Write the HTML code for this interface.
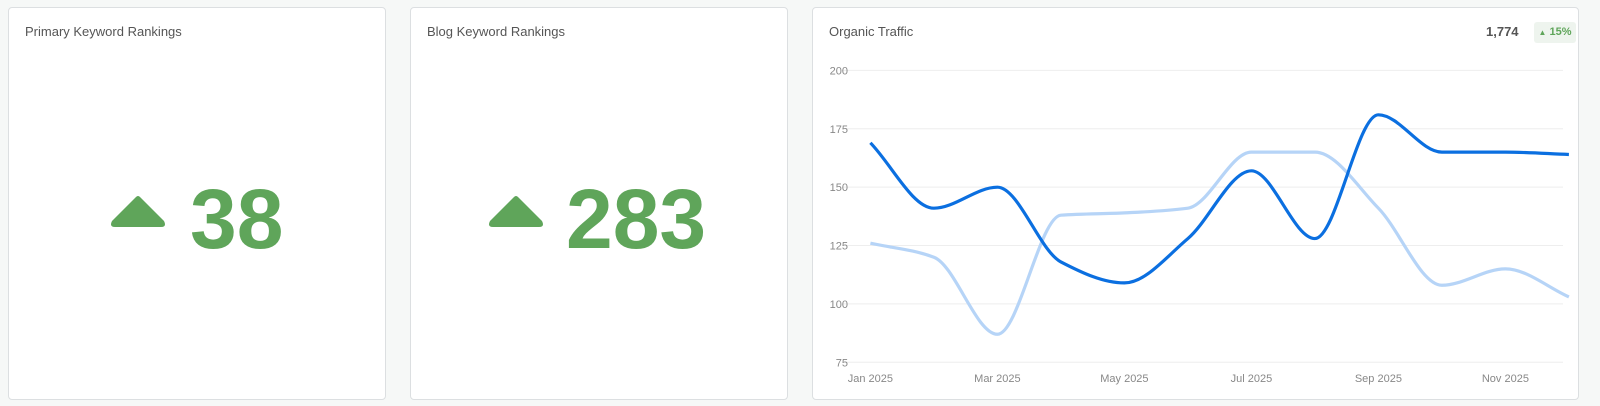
<!DOCTYPE html>
<html><head><meta charset="utf-8"><style>
body{margin:0;width:1600px;height:406px;background:#f6f8f7;font-family:"Liberation Sans",sans-serif;position:relative;overflow:hidden}
.p{position:absolute;top:7px;height:393px;background:#fff;border:1px solid #dcdfe1;border-radius:4px;box-sizing:border-box}
.t{position:absolute;left:16px;top:16px;font-size:13px;color:#555}
.big{position:absolute;top:169px;font-size:84px;font-weight:bold;color:#5fa55a;line-height:100px}
.tri{position:absolute;top:193px}
</style></head><body>
<div class="p" style="left:8px;width:378px"><div class="t">Primary Keyword Rankings</div></div>
<svg class="tri" style="left:108px" width="62" height="42"><path d="M28 4 Q30 2 32 4 L56 28 Q59 34 53 34 L7 34 Q1 34 4 28 Z" fill="#5fa55a"/></svg>
<div class="big" style="left:190px">38</div>
<div class="p" style="left:410px;width:378px"><div class="t">Blog Keyword Rankings</div></div>
<svg class="tri" style="left:486px" width="62" height="42"><path d="M28 4 Q30 2 32 4 L56 28 Q59 34 53 34 L7 34 Q1 34 4 28 Z" fill="#5fa55a"/></svg>
<div class="big" style="left:566px">283</div>
<div class="p" style="left:812px;width:767px"><div class="t">Organic Traffic</div>
<div style="position:absolute;left:673px;top:16px;font-size:13px;font-weight:bold;color:#555">1,774</div>
<div style="position:absolute;left:721px;top:14px;width:42px;height:21px;background:#eef4ee;border-radius:3px;font-size:11px;font-weight:bold;color:#5fa55a;line-height:21px;text-align:center"><span style="font-size:8px">▲</span> 15%</div>
</div>
<svg id="c" style="position:absolute;left:0;top:0" width="1600" height="406"></svg>
<script>
var s=document.getElementById('c'),h='';
function Y(v){return 362.3-(v-75)*2.335}
[200,175,150,125,100,75].forEach(function(v){var y=Y(v);h+='<line x1="842" x2="1563" y1="'+y+'" y2="'+y+'" stroke="#eeeeee"/>';h+='<text x="848" y="'+(y+4)+'" font-size="11" fill="#888" text-anchor="end" font-family="Liberation Sans">'+v+'</text>';});
['Jan 2025','Mar 2025','May 2025','Jul 2025','Sep 2025','Nov 2025'].forEach(function(l,i){h+='<text x="'+(870.4+i*127)+'" y="382" font-size="11" fill="#888" text-anchor="middle" font-family="Liberation Sans">'+l+'</text>'});
function X(i){return 870.4+i*63.5}
function path(d){var n=d.length,x=[],y=[],m=[],dl=[];for(var i=0;i<n;i++){x.push(X(i));y.push(Y(d[i]))}
for(i=0;i<n-1;i++)dl.push((y[i+1]-y[i])/(x[i+1]-x[i]));
m[0]=dl[0];m[n-1]=dl[n-2];for(i=1;i<n-1;i++){m[i]=(dl[i-1]*dl[i]<=0)?0:(2/(1/dl[i-1]+1/dl[i]))}
var p='M'+x[0]+' '+y[0];for(i=0;i<n-1;i++){var hh=(x[i+1]-x[i])/3;p+=' C'+(x[i]+hh)+' '+(y[i]+m[i]*hh)+' '+(x[i+1]-hh)+' '+(y[i+1]-m[i+1]*hh)+' '+x[i+1]+' '+y[i+1]}return p}
h+='<path d="'+path([126,120,87,138,139,141,165,165,141,108,115,103])+'" fill="none" stroke="#b6d4f7" stroke-width="3.2"/>';
h+='<path d="'+path([169,141,150,118,109,128,157,128,181,165,165,164])+'" fill="none" stroke="#0b6fe0" stroke-width="3.2"/>';
s.innerHTML=h;
</script>
</body></html>
